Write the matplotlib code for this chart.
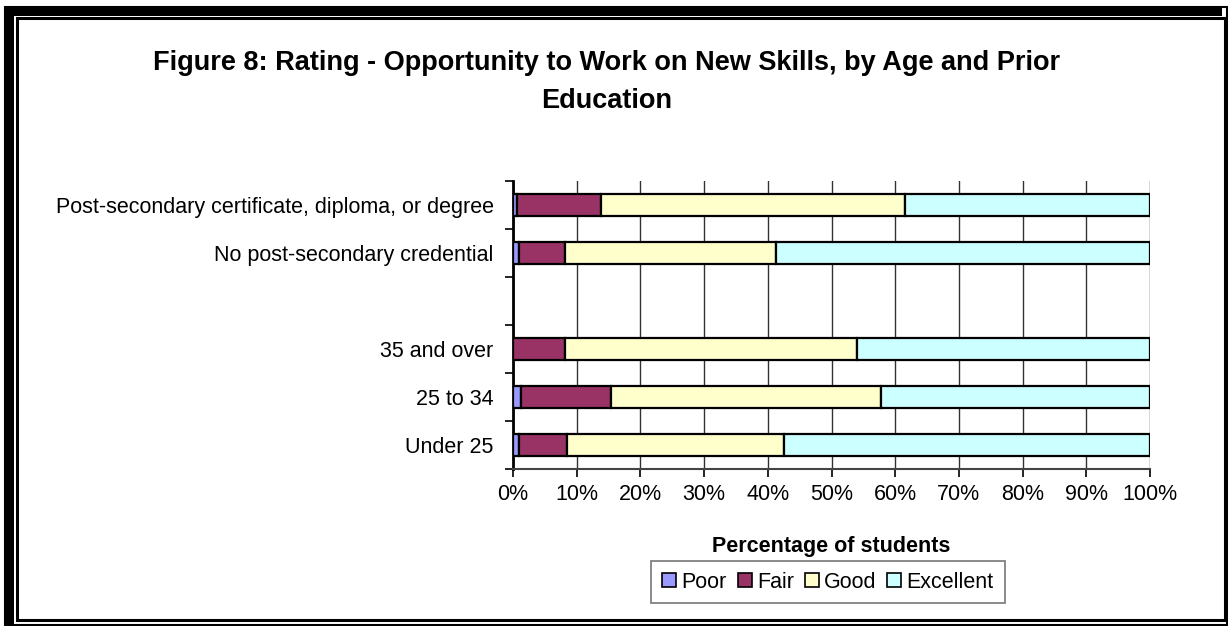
import numpy as np
import matplotlib.pyplot as plt
from matplotlib.patches import Rectangle, Patch
from matplotlib.ticker import FuncFormatter

plt.rcParams['font.family'] = ['Liberation Sans', 'DejaVu Sans']

# rows from bottom to top; the empty row is a spacer between the two groups
groups = ["Under 25", "25 to 34", "35 and over", "",
          "No post-secondary credential",
          "Post-secondary certificate, diploma, or degree"]
ratings = ["Poor", "Fair", "Good", "Excellent"]
poor = [0.9, 1.2, 0.0, 0.0, 0.9, 0.6]
fair = [7.5, 14.2, 8.2, 0.0, 7.3, 13.2]
good = [34.2, 42.3, 45.8, 0.0, 33.1, 47.7]
excellent = [57.4, 42.3, 46.0, 0.0, 58.7, 38.5]
colors = ["#9999FF", "#993366", "#FFFFCC", "#CCFFFF"]

W, H = 1228, 626
fig = plt.figure(figsize=(W / 100, H / 100), dpi=100)


def px(x0, y0, x1, y1):
    # pixel box (top-left origin) -> figure fraction rect
    return (x0 / W, 1 - y1 / H, (x1 - x0) / W, (y1 - y0) / H)


ax = fig.add_axes(px(513, 181, 1150, 469))

y = np.arange(len(groups))
left = np.zeros(len(groups))
series = [poor, fair, good, excellent]
mask = np.array([g != "" for g in groups])
for name, vals, c in zip(ratings, series, colors):
    vals = np.array(vals)
    ax.barh(y[mask], vals[mask], left=left[mask], height=0.46, color=c,
            edgecolor="black", linewidth=1.6, zorder=3)
    left = left + vals

ax.set_xlim(0, 100)
ax.set_ylim(-0.5, len(groups) - 0.5)
ax.set_xticks(np.arange(0, 101, 10))
ax.xaxis.set_major_formatter(FuncFormatter(lambda v, p: f"{v:.0f}%"))
ax.set_yticks(y)
ax.set_yticklabels(groups)
ax.set_yticks(np.arange(-0.5, len(groups), 1), minor=True)
ax.tick_params(axis="y", which="major", length=0, labelsize=15.5, pad=14)
ax.tick_params(axis="y", which="minor", length=6, width=1.2, direction="out")
ax.tick_params(axis="x", length=6, width=1.2, direction="out",
               labelsize=15.5, pad=5)
ax.grid(axis="x", color="#333333", linewidth=1.0, zorder=0)
for s in ["top", "right"]:
    ax.spines[s].set_visible(False)
ax.spines["left"].set_linewidth(2)
ax.spines["bottom"].set_linewidth(1.5)
ax.spines["bottom"].set_color("#444444")

ax.set_xlabel("Percentage of students", fontsize=15.5, fontweight="bold",
              labelpad=22)

fig.text(607 / W, 1 - 82 / H,
         "Figure 8: Rating - Opportunity to Work on New Skills, by Age and Prior\nEducation",
         ha="center", va="center", fontsize=19.5, fontweight="bold",
         linespacing=1.62)

handles = [Patch(facecolor=c, edgecolor="black", linewidth=1.2, label=r)
           for r, c in zip(ratings, colors)]
leg = fig.legend(handles=handles, loc="center", ncol=4,
                 bbox_to_anchor=(828 / W, 1 - 582 / H), frameon=True,
                 fancybox=False, edgecolor="#555555", fontsize=15.5,
                 handlelength=0.65, handleheight=0.65, handletextpad=0.25,
                 columnspacing=0.5, borderpad=0.5)
leg.get_frame().set_linewidth(1.2)

# double page border: heavy shadow on top/left, thin rectangles inside
for box in [(5, 7, 1222, 16), (5, 7, 14, 625)]:
    r = px(*box)
    fig.add_artist(Rectangle(r[:2], r[2], r[3], transform=fig.transFigure,
                             facecolor="black", edgecolor="none"))
r = px(17, 18, 1225, 620)
fig.add_artist(Rectangle(r[:2], r[2], r[3], transform=fig.transFigure,
                         facecolor="none", edgecolor="black", linewidth=2.2))
r = px(5, 7, 1227, 625)
fig.add_artist(Rectangle(r[:2], r[2], r[3], transform=fig.transFigure,
                         facecolor="none", edgecolor="black", linewidth=1.5))

fig.savefig("out.png", dpi=100)
